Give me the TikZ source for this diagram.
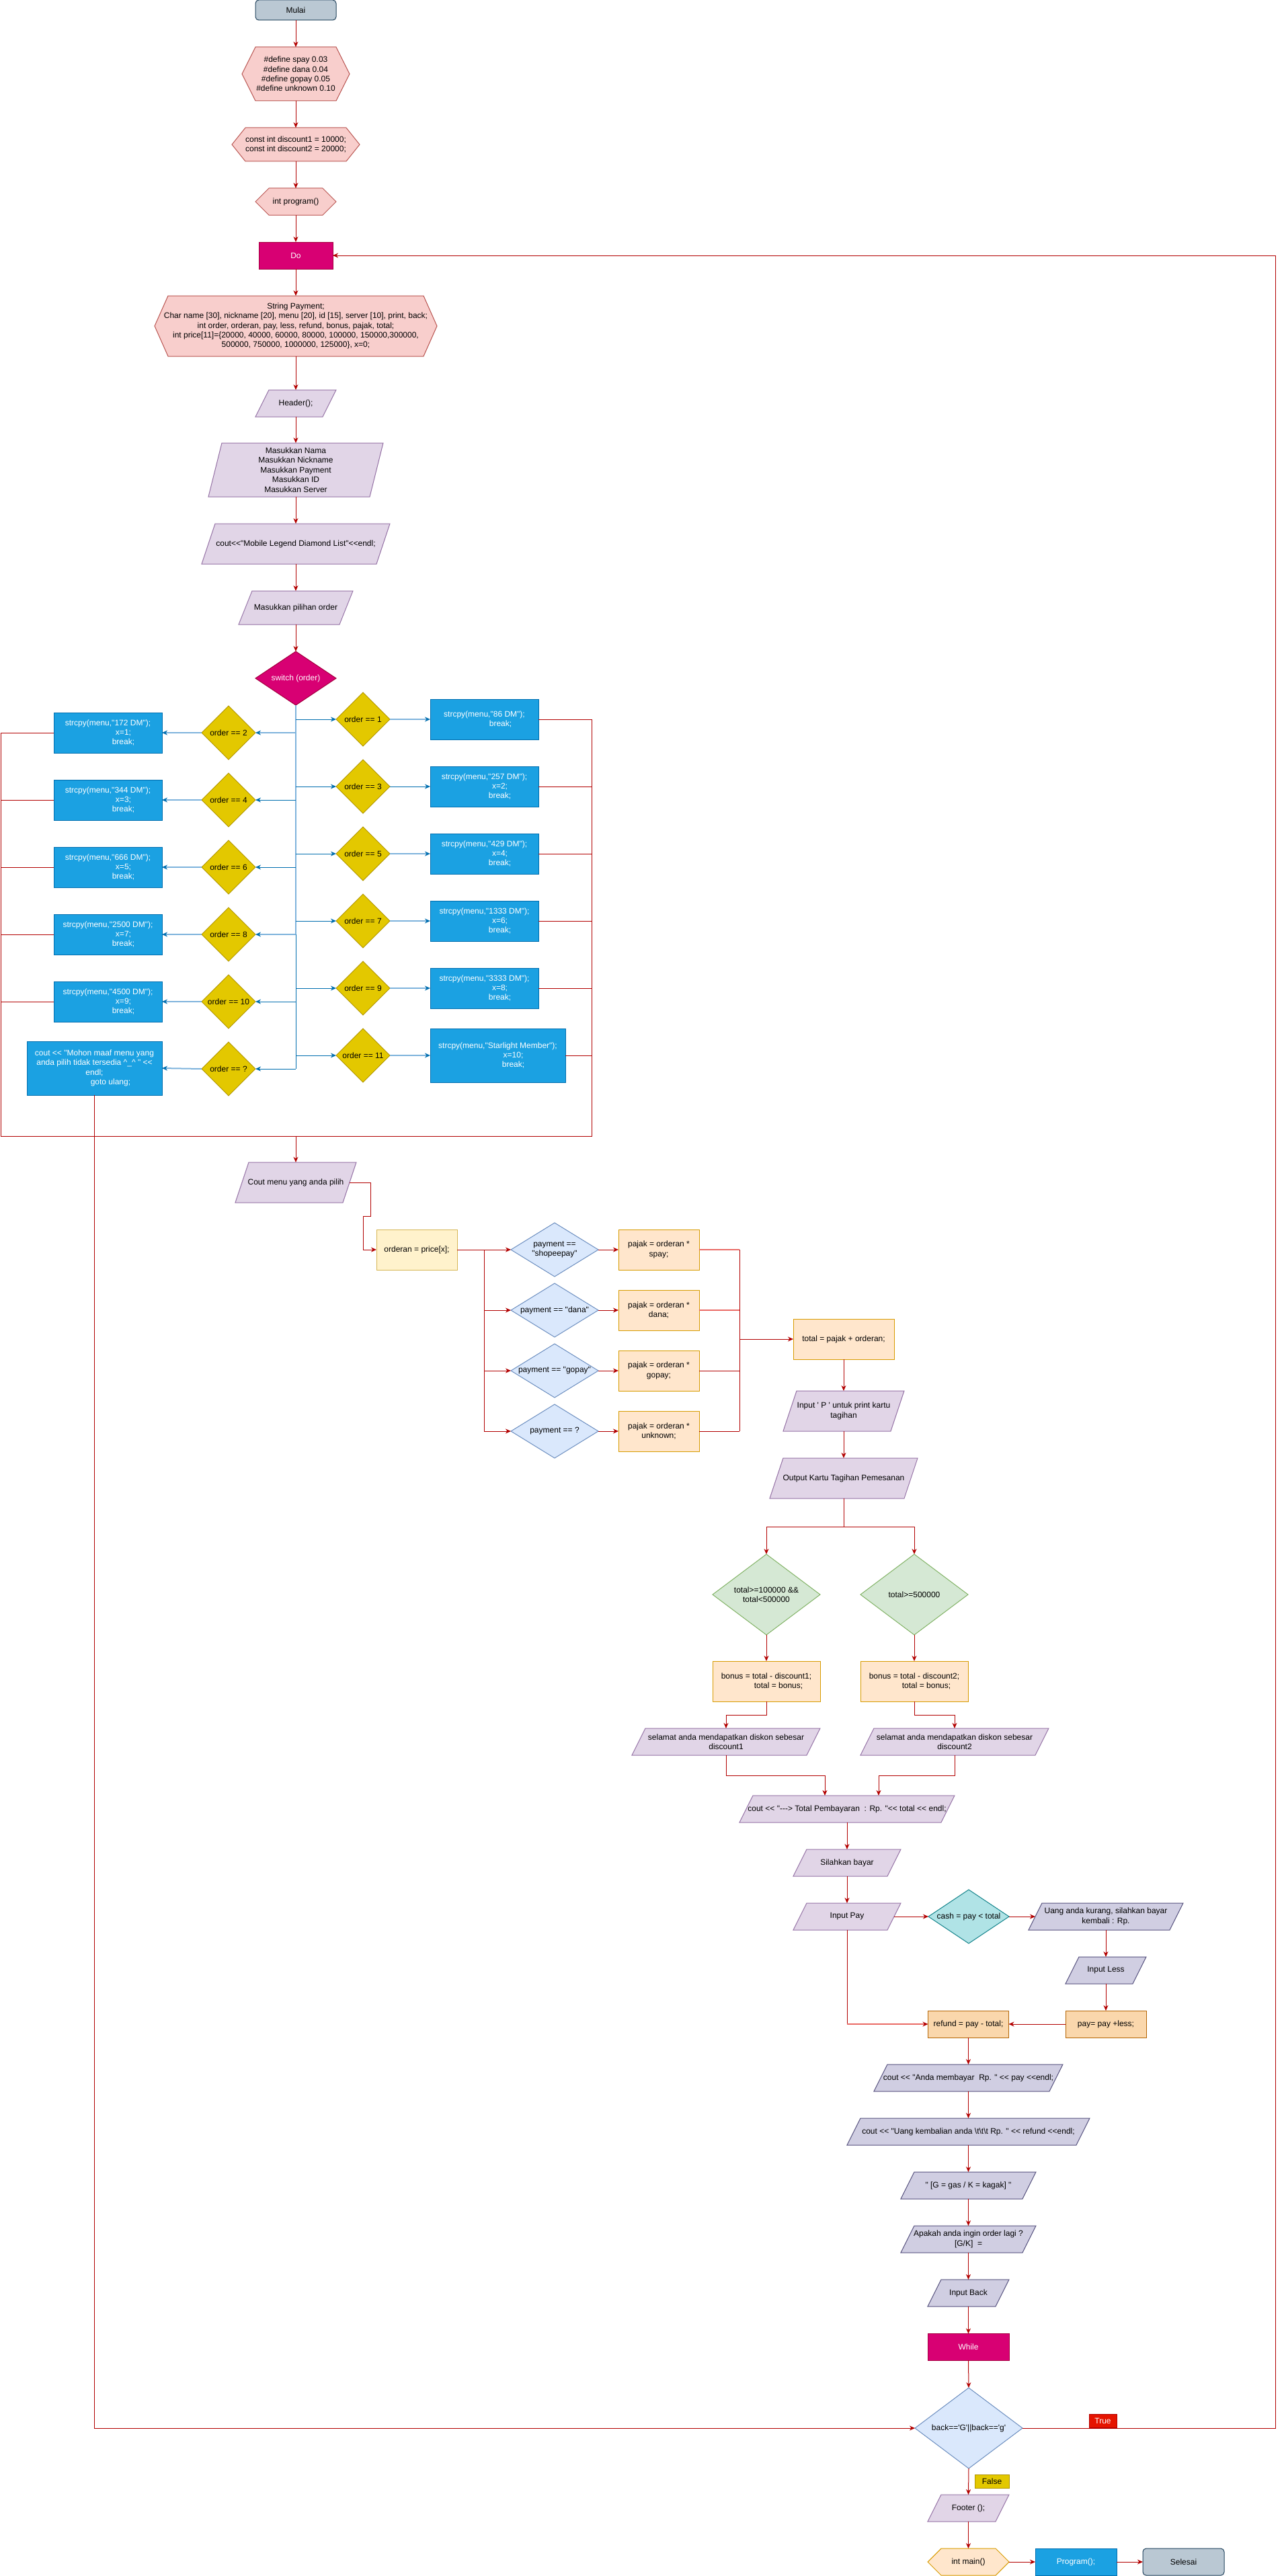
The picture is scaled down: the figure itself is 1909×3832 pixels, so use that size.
\documentclass[tikz,border=0pt]{standalone}
\usepackage{fontspec}
\setmainfont{Liberation Sans}[Ligatures=TeXOff]
\usetikzlibrary{arrows.meta,calc}
\definecolor{lred}{HTML}{B20000}
\definecolor{lpink}{HTML}{EA6B66}
\definecolor{mulF}{HTML}{BAC8D3}\definecolor{mulD}{HTML}{23445D}
\definecolor{pinkF}{HTML}{F8CECC}\definecolor{pinkD}{HTML}{B85450}
\definecolor{mag}{HTML}{D80073}\definecolor{magD}{HTML}{A50040}
\definecolor{purF}{HTML}{E1D5E7}\definecolor{purD}{HTML}{9673A6}
\definecolor{yelF}{HTML}{E3C800}\definecolor{yelD}{HTML}{B09500}
\definecolor{bluF}{HTML}{1BA1E2}\definecolor{bluD}{HTML}{006EAF}
\definecolor{bluL}{HTML}{7EB3DC}
\definecolor{ordF}{HTML}{FFF2CC}\definecolor{ordD}{HTML}{D6B656}
\definecolor{payF}{HTML}{DAE8FC}\definecolor{payD}{HTML}{6C8EBF}
\definecolor{orgF}{HTML}{FFE6CC}\definecolor{orgD}{HTML}{D79B00}
\definecolor{grnF}{HTML}{D5E8D4}\definecolor{grnD}{HTML}{82B366}
\definecolor{cyaF}{HTML}{B0E3E6}\definecolor{cyaD}{HTML}{0E8088}
\definecolor{lavF}{HTML}{D0CEE2}\definecolor{lavD}{HTML}{56517E}
\definecolor{refF}{HTML}{FAD7AC}\definecolor{refD}{HTML}{B46504}
\definecolor{truF}{HTML}{E51400}
\tikzset{
  every node/.style={font=\fontsize{12}{14.4}\selectfont, inner sep=0pt, outer sep=0pt, align=center, text=black},
  ln/.style={draw=lred, line width=1pt},
  arr/.style={ln, -{Stealth[length=8pt,width=7pt,inset=2.5pt]}},
  lnp/.style={draw=lpink, line width=2pt},
  arrp/.style={draw=lpink, line width=2pt, -{Stealth[length=8pt,width=7pt,inset=2.5pt,color=lred]}},
  bdk/.style={draw=bluD, line width=1pt},
  blt/.style={draw=bluL, line width=2pt},
  btip/.style={-{Stealth[length=8pt,width=7pt,inset=2.5pt,color=bluD]}},
  sPink/.style={fill=pinkF, draw=pinkD, line width=1pt},
  sPur/.style={fill=purF, draw=purD, line width=1pt},
  sLav/.style={fill=lavF, draw=lavD, line width=1pt},
  sMag/.style={fill=mag, draw=magD, line width=1pt},
  sYel/.style={fill=yelF, draw=yelD, line width=1pt},
  sPay/.style={fill=payF, draw=payD, line width=1pt},
  sGrn/.style={fill=grnF, draw=grnD, line width=1pt},
  sCya/.style={fill=cyaF, draw=cyaD, line width=1pt},
  sOrgH/.style={fill=orgF, draw=orgD, line width=1pt},
  bbox/.style={fill=bluF, draw=bluD, line width=1pt, text=white},
  obox/.style={fill=orgF, draw=orgD, line width=1pt},
  rbox/.style={fill=refF, draw=refD, line width=1pt},
}
% parallelogram: name, cx, cy, W, H, style, text
\newcommand{\PG}[7]{%
  \path[#6] ({#2-#4/2+20},{#3-#5/2}) -- ({#2+#4/2},{#3-#5/2}) -- ({#2+#4/2-20},{#3+#5/2}) -- ({#2-#4/2},{#3+#5/2}) -- cycle;
  \node[minimum width={(#4-20)*1pt}, minimum height={#5*1pt}] (#1) at (#2,#3) {#7};}
% hexagon
\newcommand{\HX}[7]{%
  \path[#6] ({#2-#4/2},#3) -- ({#2-#4/2+20},{#3-#5/2}) -- ({#2+#4/2-20},{#3-#5/2}) -- ({#2+#4/2},#3) -- ({#2+#4/2-20},{#3+#5/2}) -- ({#2-#4/2+20},{#3+#5/2}) -- cycle;
  \node[minimum width={#4*1pt}, minimum height={#5*1pt}] (#1) at (#2,#3) {#7};}
% diamond
\newcommand{\DM}[7]{%
  \path[#6] ({#2-#4/2},#3) -- (#2,{#3-#5/2}) -- ({#2+#4/2},#3) -- (#2,{#3+#5/2}) -- cycle;
  \node[minimum width={#4*1pt}, minimum height={#5*1pt}] (#1) at (#2,#3) {#7};}
\begin{document}
\begin{tikzpicture}[x=1pt,y=-1pt]
\useasboundingbox (0,0) rectangle (1909,3832);

% ---------- top column ----------
\node[fill=mulF, draw=mulD, line width=1pt, rounded corners=5pt, minimum width=120pt, minimum height=30pt] (mulai) at (440,15) {Mulai};
\HX{def}{440}{110}{160}{80}{sPink}{\#define spay 0.03\\\#define dana 0.04\\\#define gopay 0.05\\\#define unknown 0.10}
\HX{con}{440}{215}{190}{50}{sPink}{const int discount1 = 10000;\\const int discount2 = 20000;}
\HX{prog}{440}{300}{120}{40}{sPink}{int program()}
\node[fill=mag, draw=magD, line width=1pt, text=white, minimum width=110pt, minimum height=40pt] (do) at (440,380) {Do};
\HX{str}{440}{485}{420}{90}{sPink}{String Payment;\\Char name [30], nickname [20], menu [20], id [15], server [10], print, back;\\int order, orderan, pay, less, refund, bonus, pajak, total;\\int price[11]=\{20000, 40000, 60000, 80000, 100000, 150000,300000,\\500000, 750000, 1000000, 125000\}, x=0;}
\PG{hdr}{440}{600}{120}{40}{sPur}{Header();}
\PG{mas}{440}{699}{260}{80}{sPur}{Masukkan Nama\\Masukkan Nickname\\Masukkan Payment\\Masukkan ID\\Masukkan Server}
\PG{cml}{440}{809}{280}{60}{sPur}{cout<<"Mobile Legend Diamond List"<<endl;}
\PG{pil}{440}{904}{170}{50}{sPur}{Masukkan pilihan order}
\DM{sw}{440}{1009}{120}{80}{sMag}{\color{white}switch (order)}

\draw[arr] (mulai.south) -- (def.north);
\draw[arr] (def.south) -- (con.north);
\draw[arr] (con.south) -- (prog.north);
\draw[arr] (prog.south) -- (do.north);
\draw[arr] (do.south) -- (str.north);
\draw[arr] (str.south) -- (hdr.north);
\draw[arr] (hdr.south) -- (mas.north);
\draw[arr] (mas.south) -- (cml.north);
\draw[arr] (cml.south) -- (pil.north);
\draw[arr] (pil.south) -- (sw.north);

% ---------- switch cases ----------
\DM{dl0}{340}{1090}{80}{80}{sYel}{order == 2}
\DM{dl1}{340}{1190}{80}{80}{sYel}{order == 4}
\DM{dl2}{340}{1290}{80}{80}{sYel}{order == 6}
\DM{dl3}{340}{1390}{80}{80}{sYel}{order == 8}
\DM{dl4}{340}{1490}{80}{80}{sYel}{order == 10}
\DM{dl5}{340}{1590}{80}{80}{sYel}{order == ?}
\DM{dr0}{540}{1070}{80}{80}{sYel}{order == 1}
\DM{dr1}{540}{1170}{80}{80}{sYel}{order == 3}
\DM{dr2}{540}{1270}{80}{80}{sYel}{order == 5}
\DM{dr3}{540}{1370}{80}{80}{sYel}{order == 7}
\DM{dr4}{540}{1470}{80}{80}{sYel}{order == 9}
\DM{dr5}{540}{1570}{80}{80}{sYel}{order == 11}

\node[bbox, minimum width=161pt, minimum height=60pt] (bl0) at (160.5,1090) {strcpy(menu,"172 DM");\\\hspace*{46pt}x=1;\\\hspace*{46pt}break;};
\node[bbox, minimum width=161pt, minimum height=60pt] (bl1) at (160.5,1190) {strcpy(menu,"344 DM");\\\hspace*{46pt}x=3;\\\hspace*{46pt}break;};
\node[bbox, minimum width=161pt, minimum height=60pt] (bl2) at (160.5,1290) {strcpy(menu,"666 DM");\\\hspace*{46pt}x=5;\\\hspace*{46pt}break;};
\node[bbox, minimum width=161pt, minimum height=60pt] (bl3) at (160.5,1390) {strcpy(menu,"2500 DM");\\\hspace*{46pt}x=7;\\\hspace*{46pt}break;};
\node[bbox, minimum width=161pt, minimum height=60pt] (bl4) at (160.5,1490) {strcpy(menu,"4500 DM");\\\hspace*{46pt}x=9;\\\hspace*{46pt}break;};
\node[bbox, minimum width=201pt, minimum height=80pt] (bl5) at (140.5,1589) {cout << "Mohon maaf menu yang\\anda pilih tidak tersedia \textasciicircum\_\textasciicircum{} " <<\\endl;\\\hspace*{48pt}goto ulang;};

\node[bbox, minimum width=161pt, minimum height=60pt] (br0) at (720.5,1070) {strcpy(menu,"86 DM");\\\hspace*{48pt}break;};
\node[bbox, minimum width=161pt, minimum height=60pt] (br1) at (720.5,1170) {strcpy(menu,"257 DM");\\\hspace*{46pt}x=2;\\\hspace*{46pt}break;};
\node[bbox, minimum width=161pt, minimum height=60pt] (br2) at (720.5,1270) {strcpy(menu,"429 DM");\\\hspace*{46pt}x=4;\\\hspace*{46pt}break;};
\node[bbox, minimum width=161pt, minimum height=60pt] (br3) at (720.5,1370) {strcpy(menu,"1333 DM");\\\hspace*{46pt}x=6;\\\hspace*{46pt}break;};
\node[bbox, minimum width=161pt, minimum height=60pt] (br4) at (720.5,1470) {strcpy(menu,"3333 DM");\\\hspace*{46pt}x=8;\\\hspace*{46pt}break;};
\node[bbox, minimum width=201pt, minimum height=80pt] (br5) at (740.5,1570) {strcpy(menu,"Starlight Member");\\\hspace*{46pt}x=10;\\\hspace*{46pt}break;};

% trunk
\draw[blt] (sw.south) -- (dl3.east -| sw.south);
\draw[bdk] (dl3.east -| sw.south) -- (dl5.east -| sw.south);
% left branches
\draw[blt,btip] (dl0.east -| sw.south) -- (dl0.east);
\draw[bdk,btip] (dl1.east -| sw.south) -- (dl1.east);
\draw[bdk,btip] (dl2.east -| sw.south) -- (dl2.east);
\draw[blt,btip] (dl3.east -| sw.south) -- (dl3.east);
\draw[bdk,btip] (dl4.east -| sw.south) -- (dl4.east);
\draw[bdk,btip] (dl5.east -| sw.south) -- (dl5.east);
\draw[blt,btip] (dl0.west) -- (bl0.east);
\draw[blt,btip] (dl1.west) -- (bl1.east);
\draw[blt,btip] (dl2.west) -- (bl2.east);
\draw[blt,btip] (dl3.west) -- (bl3.east);
\draw[blt,btip] (dl4.west) -- (bl4.east);
\draw[blt,btip] (dl5.west) -- (bl5.east);
% right branches
\draw[bdk,btip] (dr0.west -| sw.south) -- (dr0.west);
\draw[bdk,btip] (dr1.west -| sw.south) -- (dr1.west);
\draw[bdk,btip] (dr2.west -| sw.south) -- (dr2.west);
\draw[bdk,btip] (dr3.west -| sw.south) -- (dr3.west);
\draw[bdk,btip] (dr4.west -| sw.south) -- (dr4.west);
\draw[bdk,btip] (dr5.west -| sw.south) -- (dr5.west);
\draw[blt,btip] (dr0.east) -- (br0.west);
\draw[bdk,btip] (dr1.east) -- (br1.west);
\draw[blt,btip] (dr2.east) -- (br2.west);
\draw[blt,btip] (dr3.east) -- (br3.west);
\draw[blt,btip] (dr4.east) -- (br4.west);
\draw[blt,btip] (dr5.east) -- (br5.west);

% red collector
\coordinate (redL) at (1.5,1690);
\coordinate (redR) at (880,1690);
\coordinate (redM) at (440,1690);
\draw[ln] (bl0.west) -| (redL) -- (redR) |- (br0.east);
\draw[ln] (bl1.west) -- (bl1.west -| redL);
\draw[ln] (bl2.west) -- (bl2.west -| redL);
\draw[ln] (bl3.west) -- (bl3.west -| redL);
\draw[ln] (bl4.west) -- (bl4.west -| redL);
\draw[ln] (br1.east) -- (br1.east -| redR);
\draw[ln] (br2.east) -- (br2.east -| redR);
\draw[ln] (br3.east) -- (br3.east -| redR);
\draw[ln] (br4.east) -- (br4.east -| redR);
\draw[ln] (br5.east) -- (br5.east -| redR);

% ---------- payment ----------
\PG{cmenu}{440}{1759}{180}{60}{sPur}{Cout menu yang anda pilih}
\draw[arr] (redM) -- (cmenu.north);
\node[fill=ordF, draw=ordD, line width=1pt, minimum width=120pt, minimum height=60pt] (ord) at (620,1859) {orderan = price[x];};
\draw[arr] (cmenu.east) -- ++(31,0) -- ++(0,50) -- ++(-11,0) |- (ord.west);

\DM{dp0}{825}{1859}{130}{80}{sPay}{payment ==\\"shopeepay"}
\DM{dp1}{825}{1949}{130}{80}{sPay}{payment == "dana"}
\DM{dp2}{825}{2039}{130}{80}{sPay}{payment == "gopay"}
\DM{dp3}{825}{2129}{130}{80}{sPay}{payment == ?}
\node[obox, minimum width=120pt, minimum height=60pt] (pj0) at (980,1859) {pajak = orderan *\\spay;};
\node[obox, minimum width=120pt, minimum height=60pt] (pj1) at (980,1949) {pajak = orderan *\\dana;};
\node[obox, minimum width=120pt, minimum height=60pt] (pj2) at (980,2039) {pajak = orderan *\\gopay;};
\node[obox, minimum width=120pt, minimum height=60pt] (pj3) at (980,2129) {pajak = orderan *\\unknown;};

\path (ord.east) ++(40,0) coordinate (jA);
\draw[ln] (ord.east) -- (jA) -- (jA |- dp3.west);
\draw[arr] (jA) -- (dp0.west);
\draw[arr] (jA |- dp1.west) -- (dp1.west);
\draw[arr] (jA |- dp2.west) -- (dp2.west);
\draw[arr] (jA |- dp3.west) -- (dp3.west);
\draw[arr] (dp0.east) -- (pj0.west);
\draw[arr] (dp1.east) -- (pj1.west);
\draw[arr] (dp2.east) -- (pj2.west);
\draw[arr] (dp3.east) -- (pj3.west);

\node[obox, minimum width=150pt, minimum height=60pt] (tot) at (1255,1992) {total = pajak + orderan;};
\path (pj0.east) ++(60,0) coordinate (jB);
\draw[lnp] (pj0.east) -- (jB);
\draw[lnp] (pj1.east) -- (pj1.east -| jB);
\draw[ln] (pj2.east) -- (pj2.east -| jB);
\draw[ln] (pj3.east) -- (pj3.east -| jB);
\draw[ln] (jB) -- (jB |- pj3.east);
\draw[arr] (jB |- tot.west) -- (tot.west);

\PG{inp}{1255}{2099}{180}{60}{sPur}{Input ' P ' untuk print kartu\\tagihan}
\PG{outk}{1255}{2199}{220}{60}{sPur}{Output Kartu Tagihan Pemesanan}
\draw[arr] (tot.south) -- (inp.north);
\draw[arr] (inp.south) -- (outk.north);

\DM{gd1}{1140}{2372}{160}{120}{sGrn}{total>=100000 \&\&\\total<500000}
\DM{gd2}{1360}{2372}{160}{120}{sGrn}{total>=500000}
\draw[arr] (outk.south) -- ++(0,42) -| (gd1.north);
\draw[arr] (outk.south) ++(0,42) -| (gd2.north);

\node[obox, minimum width=160pt, minimum height=60pt] (bn1) at (1140,2501) {bonus = total - discount1;\\\hspace*{36pt}total = bonus;};
\node[obox, minimum width=160pt, minimum height=60pt] (bn2) at (1360,2501) {bonus = total - discount2;\\\hspace*{36pt}total = bonus;};
\draw[arr] (gd1.south) -- (bn1.north);
\draw[arr] (gd2.south) -- (bn2.north);

\PG{sl1}{1080}{2591}{280}{40}{sPur}{selamat anda mendapatkan diskon sebesar\\discount1}
\PG{sl2}{1420}{2591}{280}{40}{sPur}{selamat anda mendapatkan diskon sebesar\\discount2}
\draw[arr] (bn1.south) -- ++(0,20) -| (sl1.north);
\draw[arr] (bn2.south) -- ++(0,20) -| (sl2.north);

\PG{ct}{1260}{2691}{320}{40}{sPur}{cout << "---> Total Pembayaran\ \ : Rp. "<< total << endl;}
\draw[arr] (sl1.south) -- ++(0,30) -| ([xshift=-33pt]ct.north);
\draw[arr] (sl2.south) -- ++(0,30) -| ([xshift=47pt]ct.north);

\PG{sil}{1260}{2771}{160}{40}{sPur}{Silahkan bayar}
\PG{ipay}{1260}{2851}{160}{40}{sPur}{Input Pay}
\draw[arr] (ct.south) -- (sil.north);
\draw[arr] (sil.south) -- (ipay.north);

\DM{cash}{1441}{2851}{120}{80}{sCya}{cash = pay < total}
\PG{uang}{1645}{2851}{230}{40}{sLav}{Uang anda kurang, silahkan bayar\\kembali : Rp.}
\PG{iless}{1645}{2931}{120}{40}{sLav}{Input Less}
\node[rbox, minimum width=120pt, minimum height=40pt] (payb) at (1645,3011) {pay= pay +less;};
\node[rbox, minimum width=120pt, minimum height=40pt] (ref) at (1440.5,3011) {refund = pay - total;};
\draw[arr] (ipay.east) -- (cash.west);
\draw[arr] (cash.east) -- (uang.west);
\draw[arr] (uang.south) -- (iless.north);
\draw[arr] (iless.south) -- (payb.north);
\draw[arr] (payb.west) -- (ref.east);
\draw[ln] (ipay.south) -- (ipay.south |- ref.west);
\draw[arrp] (ipay.south |- ref.west) -- (ref.west);

% ---------- end part ----------
\PG{bay}{1440.5}{3091}{281}{40}{sLav}{cout << "Anda membayar\ \ Rp. " << pay <<endl;}
\PG{kem}{1440.5}{3171}{361}{40}{sLav}{cout << "Uang kembalian anda \textbackslash t\textbackslash t\textbackslash t Rp. " << refund <<endl;}
\PG{gas}{1440.5}{3251}{201}{40}{sLav}{" [G = gas / K = kagak] "}
\PG{apa}{1440.5}{3331}{201}{40}{sLav}{Apakah anda ingin order lagi ?\\{}[G/K]\ \ =}
\PG{iback}{1440.5}{3411}{121}{40}{sLav}{Input Back}
\node[fill=mag, draw=magD, line width=1pt, text=white, minimum width=121pt, minimum height=40pt] (wh) at (1440.5,3491.5) {While};
\DM{back}{1441}{3612}{160}{120}{sPay}{back=='G'||back=='g'}
\PG{foot}{1440.5}{3731}{121}{40}{sPur}{Footer ();}
\HX{imain}{1440.5}{3811}{121}{40}{sOrgH}{int main()}
\node[bbox, minimum width=121pt, minimum height=40pt] (prg) at (1600.5,3811) {Program();};
\node[fill=mulF, draw=mulD, line width=1pt, rounded corners=5pt, minimum width=121pt, minimum height=40pt] (sel) at (1760.5,3811) {Selesai};

\draw[arr] (ref.south) -- (bay.north);
\draw[arr] (bay.south) -- (kem.north);
\draw[arr] (kem.south) -- (gas.north);
\draw[arr] (gas.south) -- (apa.north);
\draw[arr] (apa.south) -- (iback.north);
\draw[arr] (iback.south) -- (wh.north);
\draw[arr] (wh.south) -- (back.north);
\draw[arr] (back.south) -- (foot.north);
\draw[arr] (foot.south) -- (imain.north);
\draw[arr] (imain.east) -- (prg.west);
\draw[arr] (prg.east) -- (sel.west);

% loop back and goto
\coordinate (lpA) at (1897,3612);
\coordinate (lpB) at (1897,380);
\draw[arr] (back.east) -- (lpA) -- (lpB) -- (do.east);
\draw[arr] (bl5.south) |- (back.west);

\node[fill=truF, draw=lred, line width=1pt, text=white, minimum width=41pt, minimum height=20pt] (tlab) at (1640.5,3601) {True};
\node[fill=yelF, draw=yelD, line width=1pt, minimum width=51pt, minimum height=20pt] (flab) at (1475.5,3691) {False};
\end{tikzpicture}
\end{document}
